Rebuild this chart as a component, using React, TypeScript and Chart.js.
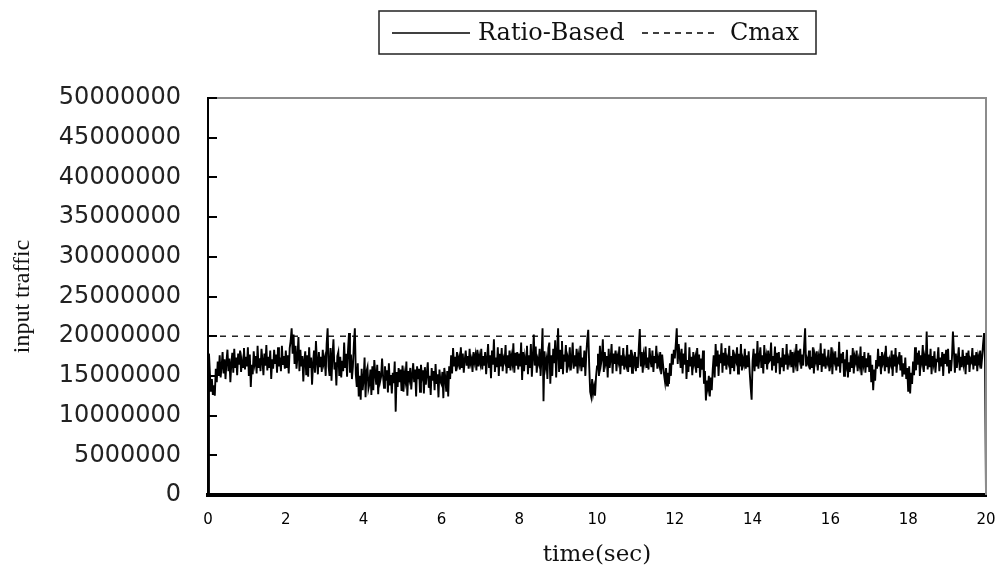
import { useEffect, useRef } from "react";
import { Chart, registerables } from "chart.js";

Chart.register(...registerables);

// ---- data -----------------------------------------------------------
const X_TICK_LABELS = ["0", "2", "4", "6", "8", "10", "12", "14", "16", "18", "20"];
const Y_TICK_LABELS = [
  "0", "5000000", "10000000", "15000000", "20000000", "25000000",
  "30000000", "35000000", "40000000", "45000000", "50000000",
];
const X_TITLE = "time(sec)";
const Y_TITLE = "input traffic";
const SERIES_NAME = "Ratio-Based";
const CMAX_NAME = "Cmax";
const CMAX = 20; // millions
const SAMPLE_STEP = 0.025; // sec between samples

// input traffic, in millions, one row per second (40 samples each)
const ratioBased = [
  0, 17.8, 15.2, 13.0, 14.6, 12.6, 13.8, 12.5, 15.9, 14.2, 16.8, 15.0, 17.6, 14.8, 16.2, 18.0, 15.3, 17.1, 14.6, 16.8, 18.3, 15.6, 17.2, 14.2, 16.6, 17.9, 15.4, 18.4, 16.0, 17.3, 15.1, 17.8, 16.4, 18.2, 15.5, 17.0, 16.1, 18.5, 15.8, 17.4,
  16.2, 18.6, 15.0, 17.7, 13.6, 16.4, 15.2, 18.1, 16.6, 17.5, 15.3, 18.8, 16.0, 17.2, 15.6, 18.4, 16.9, 15.1, 17.8, 16.3, 18.9, 15.7, 17.4, 16.0, 18.2, 14.6, 17.1, 15.9, 18.3, 16.5, 17.7, 15.4, 18.6, 16.2, 17.3, 15.6, 18.8, 16.4, 17.5, 15.9,
  18.2, 16.0, 17.6, 15.3, 18.5, 19.4, 21.0, 17.8, 20.2, 16.5, 18.8, 15.9, 17.4, 19.9, 15.6, 18.3, 16.2, 17.5, 14.3, 16.9, 18.1, 15.1, 17.6, 14.9, 18.6, 16.0, 17.3, 13.9, 16.5, 18.2, 15.4, 19.4, 16.8, 15.2, 18.0, 16.1, 17.4, 15.5, 18.3, 16.6,
  17.2, 15.0, 19.0, 21.0, 16.2, 15.0, 18.5, 14.4, 17.6, 19.6, 15.8, 16.7, 13.8, 17.5, 18.0, 15.0, 17.4, 14.8, 16.9, 15.6, 19.2, 16.0, 17.8, 14.9, 18.3, 20.4, 15.4, 17.7, 14.6, 16.2, 19.0, 21.0, 15.2, 13.6, 16.6, 12.4, 15.0, 12.0, 15.9, 13.2,
  14.5, 17.3, 12.3, 15.6, 16.1, 13.4, 14.0, 15.8, 12.6, 16.2, 13.2, 17.0, 15.3, 13.9, 16.4, 12.7, 15.6, 14.3, 14.9, 17.2, 15.0, 13.5, 16.2, 14.4, 15.7, 12.9, 16.6, 13.8, 15.1, 12.8, 15.4, 14.1, 16.8, 10.5, 15.5, 13.6, 16.0, 14.2, 15.8, 13.1,
  16.3, 13.0, 15.2, 14.4, 16.8, 12.5, 15.6, 14.7, 16.0, 13.3, 15.1, 16.6, 14.2, 15.8, 12.4, 16.2, 14.6, 15.9, 13.0, 16.4, 14.9, 15.7, 12.8, 16.1, 13.9, 15.3, 16.7, 13.5, 15.0, 12.6, 16.0, 14.4, 15.6, 13.2, 16.5, 14.0, 15.2, 12.3, 15.8, 14.3,
  14.0, 15.5, 12.2, 16.0, 14.8, 13.0, 15.6, 12.4, 16.2, 14.6, 17.6, 15.3, 18.5, 16.2, 17.4, 15.6, 18.0, 16.5, 17.2, 15.8, 18.6, 16.0, 17.8, 15.4, 17.0, 18.2, 16.3, 17.5, 15.9, 18.4, 16.6, 17.1, 15.5, 18.0, 16.8, 17.6, 15.7, 18.3, 16.2, 17.4,
  16.6, 18.4, 15.8, 17.5, 16.3, 18.0, 15.2, 17.1, 19.0, 16.0, 17.6, 14.7, 18.2, 16.4, 19.6, 15.5, 17.3, 16.1, 18.6, 15.0, 17.8, 16.2, 18.5, 15.6, 17.2, 16.8, 18.9, 15.3, 17.6, 16.0, 18.2, 15.7, 17.4, 16.6, 19.1, 15.4, 17.9, 16.3, 18.0, 15.8,
  17.8, 16.2, 19.2, 14.5, 18.0, 15.6, 17.4, 16.5, 18.8, 15.2, 17.6, 16.0, 19.0, 14.9, 17.3, 20.2, 16.3, 18.7, 15.4, 17.1, 16.6, 18.4, 15.0, 17.5, 21.0, 11.8, 18.1, 16.2, 17.0, 14.6, 18.5, 19.2, 14.0, 17.6, 15.0, 18.4, 16.6, 19.5, 14.8, 17.9,
  21.0, 15.5, 18.3, 16.0, 19.4, 15.2, 17.7, 16.8, 18.9, 15.4, 17.2, 16.5, 18.6, 15.7, 17.0, 19.2, 15.9, 17.6, 16.2, 18.4, 15.3, 17.5, 16.7, 18.8, 15.6, 17.3, 16.1, 18.2, 15.0, 17.8, 19.6, 20.8, 16.2, 13.0, 12.4, 14.6, 12.8, 13.6, 12.5, 14.9,
  16.2, 17.8, 15.0, 18.8, 16.4, 17.2, 19.6, 15.5, 18.0, 16.7, 17.5, 14.8, 18.4, 16.0, 17.1, 19.0, 15.3, 17.8, 16.5, 18.2, 15.6, 17.4, 16.8, 18.7, 15.2, 17.6, 16.3, 18.5, 15.8, 17.0, 16.4, 18.9, 15.5, 17.7, 16.1, 18.3, 15.4, 17.2, 16.6, 18.0,
  15.6, 17.4, 16.0, 18.6, 20.9, 16.2, 18.0, 15.4, 17.6, 16.8, 18.7, 16.0, 17.3, 15.8, 18.5, 17.0, 16.1, 18.2, 15.5, 17.5, 16.6, 18.8, 15.9, 17.2, 16.4, 18.0, 15.2, 17.7, 16.3, 15.1, 14.2, 16.0, 13.8, 15.4, 14.0, 16.6, 15.0, 17.8, 16.4, 18.3,
  17.2, 19.0, 21.0, 16.5, 19.0, 17.6, 16.0, 18.4, 15.3, 17.8, 16.4, 19.2, 14.6, 17.0, 15.5, 18.6, 16.2, 17.4, 15.1, 18.0, 16.6, 17.3, 15.4, 18.5, 16.0, 17.7, 14.8, 17.2, 15.8, 18.2, 14.0, 15.6, 11.9, 14.4, 13.5, 15.0, 12.4, 14.8, 13.2, 15.8,
  17.6, 14.8, 19.0, 16.2, 18.2, 15.0, 17.7, 16.6, 19.1, 15.4, 17.9, 16.3, 18.5, 15.8, 17.2, 16.7, 18.8, 15.2, 17.5, 16.0, 18.3, 15.6, 17.4, 16.9, 18.6, 15.3, 17.8, 16.2, 19.0, 15.7, 17.1, 16.5, 18.4, 15.9, 17.6, 16.1, 18.1, 15.5, 13.6, 12.0,
  16.9, 18.4, 15.6, 17.8, 16.2, 19.4, 15.9, 17.3, 18.6, 16.0, 17.6, 15.3, 18.9, 16.5, 17.4, 15.8, 18.2, 16.8, 17.0, 19.2, 15.7, 17.5, 16.3, 18.7, 15.4, 17.9, 16.6, 18.0, 15.2, 17.3, 16.1, 18.5, 15.6, 17.7, 16.4, 19.0, 15.8, 17.2, 16.7, 18.3,
  16.1, 18.0, 15.4, 17.5, 16.7, 19.0, 15.6, 18.2, 17.2, 18.4, 15.9, 17.7, 16.3, 18.8, 21.0, 16.2, 17.1, 16.6, 18.2, 15.8, 17.4, 16.0, 18.6, 15.3, 17.6, 16.9, 18.1, 15.7, 17.3, 16.4, 19.1, 15.5, 17.8, 16.2, 18.4, 15.9, 17.0, 16.6, 18.3, 15.6,
  16.4, 18.6, 15.2, 17.6, 16.9, 18.1, 15.7, 17.3, 16.2, 19.3, 15.4, 17.8, 16.6, 18.0, 15.0, 17.1, 16.4, 18.3, 14.8, 16.7, 15.5, 17.6, 16.0, 18.5, 15.3, 17.4, 16.8, 18.2, 15.6, 17.0, 16.3, 18.7, 15.1, 17.5, 16.5, 18.0, 15.4, 17.2, 16.1, 17.9,
  15.5, 17.6, 14.2, 16.4, 13.2, 15.8, 14.4, 17.0, 15.9, 18.4, 16.3, 17.5, 15.2, 18.0, 16.7, 17.3, 15.6, 18.8, 16.1, 17.4, 15.3, 17.0, 16.5, 18.2, 15.0, 17.7, 16.2, 18.5, 15.4, 17.1, 16.8, 18.0, 15.7, 17.6, 14.9, 16.6, 15.2, 17.3, 14.6, 16.0,
  13.0, 16.2, 12.8, 15.4, 14.0, 16.8, 15.1, 18.6, 15.7, 17.9, 16.4, 18.2, 15.0, 17.6, 16.8, 18.9, 15.5, 17.2, 16.3, 20.6, 15.8, 17.7, 16.1, 18.4, 15.2, 17.5, 16.6, 18.1, 15.4, 17.0, 16.9, 18.6, 15.6, 17.3, 16.2, 18.0, 15.0, 17.8, 16.5, 18.3,
  16.2, 18.4, 15.3, 17.0, 15.6, 17.3, 20.6, 18.1, 15.4, 17.8, 16.0, 17.2, 18.6, 15.7, 17.4, 16.1, 18.3, 16.6, 17.5, 15.2, 17.9, 16.4, 18.2, 15.5, 17.1, 16.8, 18.5, 15.8, 17.6, 16.3, 18.0, 15.6, 17.4, 16.7, 18.2, 15.9, 17.3, 19.0, 20.4, 16.8,
  0,
];

// ---- plugins --------------------------------------------------------
const framePlugin = {
  id: "frame",
  afterDraw(chart: any) {
    const { ctx, chartArea } = chart;
    const { left, right, top, bottom } = chartArea;
    ctx.save();
    ctx.strokeStyle = "#8c8c8c";
    ctx.lineWidth = 2;
    ctx.beginPath();
    ctx.moveTo(left, top);
    ctx.lineTo(right, top);
    ctx.lineTo(right, bottom);
    ctx.stroke();
    // inward tick marks on the y axis
    const yScale = chart.scales.y;
    ctx.strokeStyle = "#000";
    ctx.lineWidth = 2;
    ctx.beginPath();
    yScale.ticks.forEach((t: any) => {
      const py = Math.round(yScale.getPixelForValue(t.value));
      ctx.moveTo(left, py);
      ctx.lineTo(left + 9, py);
    });
    ctx.stroke();
    ctx.restore();
  },
};

const legendPlugin = {
  id: "boxLegend",
  afterDraw(chart: any) {
    const ctx = chart.ctx;
    ctx.save();
    ctx.strokeStyle = "#222";
    ctx.lineWidth = 1.5;
    ctx.strokeRect(379, 11, 437, 43);
    ctx.strokeStyle = "#000";
    ctx.lineWidth = 1.5;
    ctx.beginPath();
    ctx.moveTo(392, 33);
    ctx.lineTo(470, 33);
    ctx.stroke();
    ctx.setLineDash([6, 5]);
    ctx.beginPath();
    ctx.moveTo(642, 33);
    ctx.lineTo(718, 33);
    ctx.stroke();
    ctx.setLineDash([]);
    ctx.fillStyle = "#111";
    ctx.font = "24px 'DejaVu Serif'";
    ctx.textBaseline = "middle";
    ctx.textAlign = "left";
    ctx.fillText(SERIES_NAME, 478, 34);
    ctx.fillText(CMAX_NAME, 730, 34);
    ctx.restore();
  },
};

export default function App() {
  const ref = useRef<HTMLCanvasElement | null>(null);

  useEffect(() => {
    if (!ref.current) return;
    const seriesPoints = ratioBased.map((v, i) => ({ x: i * SAMPLE_STEP, y: v }));
    const xMax = Number(X_TICK_LABELS[X_TICK_LABELS.length - 1]);
    const chart = new Chart(ref.current, {
      type: "line",
      data: {
        datasets: [
          {
            label: SERIES_NAME,
            data: seriesPoints,
            borderColor: "#000",
            borderWidth: 1.9,
            pointRadius: 0,
            tension: 0,
          },
          {
            label: CMAX_NAME,
            data: [
              { x: 0, y: CMAX },
              { x: xMax, y: CMAX },
            ],
            borderColor: "#000",
            borderWidth: 1.3,
            borderDash: [6, 6],
            pointRadius: 0,
          },
        ],
      },
      options: {
        animation: false,
        responsive: false,
        events: [],
        layout: { padding: { top: 98, right: 11, bottom: 0, left: 0 } },
        plugins: {
          legend: { display: false },
          tooltip: { enabled: false },
        },
        scales: {
          x: {
            type: "linear",
            min: 0,
            max: xMax,
            afterFit: (s: any) => {
              s.height = 83;
              s.paddingLeft = 0;
              s.paddingRight = 0;
            },
            afterBuildTicks: (s: any) => {
              s.ticks = X_TICK_LABELS.map((l) => ({ value: Number(l) }));
            },
            ticks: {
              autoSkip: false,
              maxRotation: 0,
              padding: 16,
              color: "#000",
              font: { family: "'DejaVu Sans'", size: 15 },
              callback: (_v: any, i: number) => X_TICK_LABELS[i],
            },
            grid: { display: false, drawTicks: false },
            border: { display: true, color: "#000", width: 4 },
            title: {
              display: true,
              text: X_TITLE,
              color: "#111",
              font: { family: "'DejaVu Serif'", size: 23 },
              padding: { top: 0, bottom: 9 },
            },
          },
          y: {
            min: 0,
            max: 50,
            afterFit: (s: any) => {
              s.width = 208;
              s.paddingTop = 0;
              s.paddingBottom = 0;
            },
            afterBuildTicks: (s: any) => {
              s.ticks = Y_TICK_LABELS.map((_l, i) => ({ value: i * 5 }));
            },
            ticks: {
              autoSkip: false,
              padding: 27,
              color: "#222",
              font: { family: "'DejaVu Sans'", size: 24 },
              callback: (_v: any, i: number) => Y_TICK_LABELS[i],
            },
            grid: { display: false, drawTicks: false },
            border: { display: true, color: "#000", width: 2 },
            title: {
              display: true,
              text: Y_TITLE,
              color: "#111",
              font: { family: "'Liberation Serif'", size: 24 },
              padding: { top: 8, bottom: 0 },
            },
          },
        },
      },
      plugins: [framePlugin, legendPlugin],
    } as any);
    return () => chart.destroy();
  }, []);

  return (
    <div style={{ position: "absolute", left: 0, top: 0, width: 997, height: 578, background: "#fff" }}>
      <canvas ref={ref} width={997} height={578} style={{ display: "block" }} />
    </div>
  );
}
